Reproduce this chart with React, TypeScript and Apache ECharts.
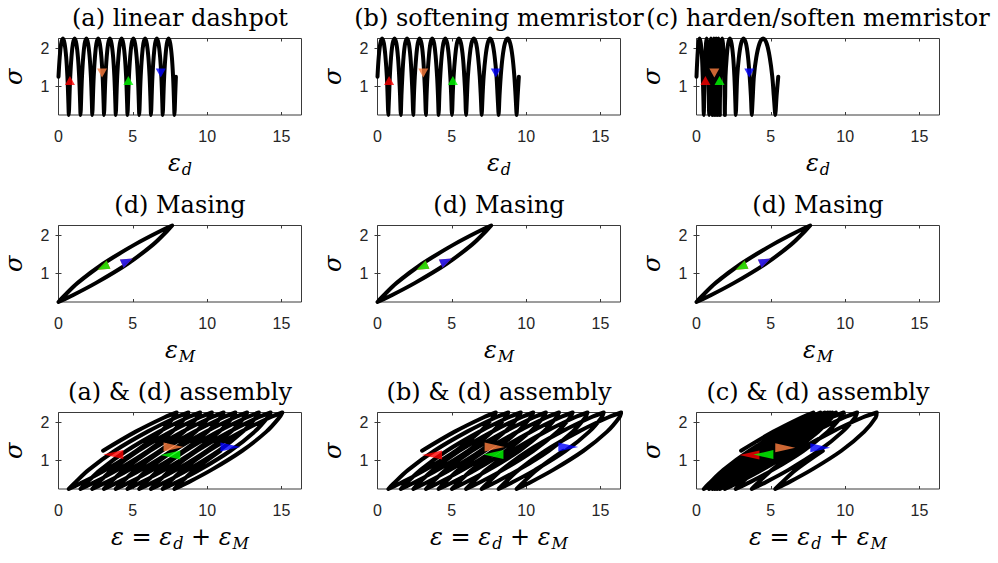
import React, { useEffect, useRef } from 'react';
import * as echarts from 'echarts';

// time series of stress sigma (10 loading cycles, 12 samples per cycle)
const sigma = [
  1.25, 1.75, 2.12, 2.25, 2.12, 1.75, 1.25, 0.75, 0.38, 0.25, 0.38, 0.75,
  1.25, 1.75, 2.12, 2.25, 2.12, 1.75, 1.25, 0.75, 0.38, 0.25, 0.38, 0.75,
  1.25, 1.75, 2.12, 2.25, 2.12, 1.75, 1.25, 0.75, 0.38, 0.25, 0.38, 0.75,
  1.25, 1.75, 2.12, 2.25, 2.12, 1.75, 1.25, 0.75, 0.38, 0.25, 0.38, 0.75,
  1.25, 1.75, 2.12, 2.25, 2.12, 1.75, 1.25, 0.75, 0.38, 0.25, 0.38, 0.75,
  1.25, 1.75, 2.12, 2.25, 2.12, 1.75, 1.25, 0.75, 0.38, 0.25, 0.38, 0.75,
  1.25, 1.75, 2.12, 2.25, 2.12, 1.75, 1.25, 0.75, 0.38, 0.25, 0.38, 0.75,
  1.25, 1.75, 2.12, 2.25, 2.12, 1.75, 1.25, 0.75, 0.38, 0.25, 0.38, 0.75,
  1.25, 1.75, 2.12, 2.25, 2.12, 1.75, 1.25, 0.75, 0.38, 0.25, 0.38, 0.75,
  1.25, 1.75, 2.12, 2.25, 2.12, 1.75, 1.25, 0.75, 0.38, 0.25, 0.38, 0.75,
  1.25,
];

// Masing strain eps_M at the same instants
const epsM = [
  3.00, 5.12, 6.93, 7.65, 7.34, 6.36, 4.65, 2.53, 0.72, 0, 0.31, 1.29,
  3.00, 5.12, 6.93, 7.65, 7.34, 6.36, 4.65, 2.53, 0.72, 0, 0.31, 1.29,
  3.00, 5.12, 6.93, 7.65, 7.34, 6.36, 4.65, 2.53, 0.72, 0, 0.31, 1.29,
  3.00, 5.12, 6.93, 7.65, 7.34, 6.36, 4.65, 2.53, 0.72, 0, 0.31, 1.29,
  3.00, 5.12, 6.93, 7.65, 7.34, 6.36, 4.65, 2.53, 0.72, 0, 0.31, 1.29,
  3.00, 5.12, 6.93, 7.65, 7.34, 6.36, 4.65, 2.53, 0.72, 0, 0.31, 1.29,
  3.00, 5.12, 6.93, 7.65, 7.34, 6.36, 4.65, 2.53, 0.72, 0, 0.31, 1.29,
  3.00, 5.12, 6.93, 7.65, 7.34, 6.36, 4.65, 2.53, 0.72, 0, 0.31, 1.29,
  3.00, 5.12, 6.93, 7.65, 7.34, 6.36, 4.65, 2.53, 0.72, 0, 0.31, 1.29,
  3.00, 5.12, 6.93, 7.65, 7.34, 6.36, 4.65, 2.53, 0.72, 0, 0.31, 1.29,
  3.00,
];

// (a) linear dashpot strain eps_d
const epsD_a = [
  0, 0.08, 0.18, 0.30, 0.41, 0.52, 0.60, 0.65, 0.68, 0.69, 0.71, 0.74,
  0.79, 0.87, 0.97, 1.09, 1.20, 1.31, 1.39, 1.44, 1.47, 1.48, 1.50, 1.53,
  1.58, 1.66, 1.76, 1.88, 1.99, 2.10, 2.18, 2.23, 2.26, 2.27, 2.29, 2.32,
  2.37, 2.45, 2.55, 2.67, 2.78, 2.89, 2.97, 3.02, 3.05, 3.06, 3.08, 3.11,
  3.16, 3.24, 3.34, 3.46, 3.57, 3.68, 3.76, 3.81, 3.84, 3.85, 3.87, 3.90,
  3.95, 4.03, 4.13, 4.25, 4.36, 4.47, 4.55, 4.60, 4.63, 4.64, 4.66, 4.69,
  4.74, 4.82, 4.92, 5.04, 5.15, 5.26, 5.34, 5.39, 5.42, 5.43, 5.45, 5.48,
  5.53, 5.61, 5.71, 5.83, 5.94, 6.05, 6.13, 6.18, 6.21, 6.22, 6.24, 6.27,
  6.32, 6.40, 6.50, 6.62, 6.73, 6.84, 6.92, 6.97, 7.00, 7.01, 7.03, 7.06,
  7.11, 7.19, 7.29, 7.41, 7.52, 7.63, 7.71, 7.76, 7.79, 7.80, 7.82, 7.85,
  7.90,
];

// (b) softening memristor strain eps_d
const epsD_b = [
  0, 0.08, 0.19, 0.31, 0.43, 0.54, 0.63, 0.68, 0.71, 0.73, 0.74, 0.78,
  0.83, 0.91, 1.02, 1.15, 1.27, 1.38, 1.46, 1.52, 1.55, 1.57, 1.58, 1.61,
  1.67, 1.75, 1.86, 1.99, 2.11, 2.22, 2.30, 2.36, 2.39, 2.41, 2.42, 2.45,
  2.51, 2.60, 2.71, 2.83, 2.96, 3.07, 3.15, 3.21, 3.24, 3.26, 3.27, 3.30,
  3.36, 3.45, 3.56, 3.68, 3.81, 3.92, 4.01, 4.07, 4.10, 4.11, 4.13, 4.16,
  4.22, 4.31, 4.43, 4.56, 4.69, 4.81, 4.90, 4.96, 4.99, 5.01, 5.03, 5.06,
  5.12, 5.22, 5.34, 5.48, 5.62, 5.75, 5.84, 5.91, 5.94, 5.96, 5.98, 6.02,
  6.08, 6.19, 6.32, 6.48, 6.64, 6.77, 6.88, 6.95, 6.99, 7.01, 7.03, 7.07,
  7.14, 7.26, 7.41, 7.57, 7.74, 7.89, 8.01, 8.08, 8.13, 8.15, 8.17, 8.21,
  8.29, 8.41, 8.57, 8.75, 8.93, 9.09, 9.21, 9.29, 9.34, 9.36, 9.38, 9.43,
  9.51,
];

// (c) harden/soften memristor strain eps_d
const epsD_c = [
  0, 0.06, 0.13, 0.21, 0.29, 0.37, 0.42, 0.46, 0.48, 0.49, 0.50, 0.52,
  0.56, 0.59, 0.64, 0.68, 0.73, 0.78, 0.81, 0.83, 0.84, 0.85, 0.86, 0.87,
  0.89, 0.91, 0.94, 0.97, 1.01, 1.03, 1.06, 1.07, 1.08, 1.08, 1.09, 1.10,
  1.11, 1.13, 1.15, 1.17, 1.19, 1.21, 1.22, 1.23, 1.24, 1.24, 1.25, 1.25,
  1.26, 1.28, 1.30, 1.32, 1.34, 1.36, 1.37, 1.38, 1.39, 1.39, 1.40, 1.40,
  1.41, 1.43, 1.45, 1.48, 1.50, 1.53, 1.55, 1.56, 1.56, 1.57, 1.57, 1.58,
  1.59, 1.63, 1.67, 1.73, 1.78, 1.83, 1.86, 1.89, 1.90, 1.91, 1.91, 1.93,
  1.95, 2.03, 2.13, 2.25, 2.36, 2.47, 2.55, 2.60, 2.63, 2.64, 2.66, 2.69,
  2.74, 2.85, 3.00, 3.16, 3.33, 3.47, 3.58, 3.66, 3.70, 3.72, 3.74, 3.79,
  3.86, 4.02, 4.24, 4.48, 4.72, 4.93, 5.10, 5.20, 5.27, 5.30, 5.33, 5.39,
  5.50,
];

const xTicks = [0, 5, 10, 15];
const yTicks = [1, 2];
const X_MAX = 16.35;
const Y_MIN = 0.25;
const Y_MAX = 2.25;

const titles = [
  '(a) linear dashpot', '(b) softening memristor', '(c) harden/soften memristor',
  '(d) Masing', '(d) Masing', '(d) Masing',
  '(a) & (d) assembly', '(b) & (d) assembly', '(c) & (d) assembly',
];

const markerColors = ['#FF0000', '#FF8040', '#00FF00', '#0000FF']; // red, orange, green, blue
const row1Markers = [
  [[0.77, 1.15], [2.93, 1.35], [4.70, 1.15], [6.88, 1.35]],
  [[0.78, 1.15], [3.08, 1.35], [5.07, 1.15], [7.96, 1.35]],
  [[0.60, 1.15], [1.20, 1.35], [1.55, 1.15], [3.55, 1.35]],
];
const row2Markers = [[3.0, 1.16], [4.62, 1.32], [3.0, 1.16], [4.62, 1.32]];
const row3Markers = [
  [[3.69, 1.15], [7.74, 1.35], [7.52, 1.14], [11.57, 1.35]],
  [[3.67, 1.14], [7.88, 1.35], [7.80, 1.15], [12.84, 1.35]],
  [[3.56, 1.14], [5.97, 1.33], [4.50, 1.15], [8.33, 1.33]],
];

const gridLeft = [58.5, 377.5, 696.5];
const gridTop = [38.5, 225.5, 412.5];
const gridW = 243;
const gridH = 76.5;
const AX = '#3a3a3a';
const TICK_TXT = '#262626';
const SERIF = '"DejaVu Serif", serif';
const SANS = '"Liberation Sans", Arial, sans-serif';

const rich = {
  e: { fontFamily: SERIF, fontStyle: 'italic', fontSize: 24, lineHeight: 26, verticalAlign: 'top', color: '#000' },
  n: { fontFamily: SERIF, fontSize: 24, lineHeight: 26, verticalAlign: 'top', color: '#000' },
  s: { fontFamily: SERIF, fontStyle: 'italic', fontSize: 16, lineHeight: 16, padding: [13, 0, 0, 1], verticalAlign: 'bottom', color: '#000' },
};

const xNames = ['{e|ε}{s|d}', '{e|ε}{s|M}', '{e|ε}{n| = }{e|ε}{s|d}{n| + }{e|ε}{s|M}'];

function buildOption() {
  const grid: any[] = [];
  const xAxis: any[] = [];
  const yAxis: any[] = [];
  const series: any[] = [];
  const graphic: any[] = [];
  const epsDs = [epsD_a, epsD_b, epsD_c];

  for (let r = 0; r < 3; r++) {
    for (let c = 0; c < 3; c++) {
      const idx = r * 3 + c;
      grid.push({ left: gridLeft[c], top: gridTop[r], width: gridW, height: gridH, show: true, borderColor: AX, borderWidth: 1, backgroundColor: 'transparent' });
      const tickStyle = { inside: true, length: 3, customValues: xTicks, lineStyle: { color: AX, width: 1 } };
      xAxis.push({
        gridIndex: idx, type: 'value', min: 0, max: X_MAX, position: 'bottom',
        axisLine: { show: false }, splitLine: { show: false },
        axisTick: tickStyle,
        axisLabel: { customValues: xTicks, margin: 13, fontSize: 16, color: TICK_TXT, fontFamily: SANS },
        name: xNames[r], nameLocation: 'middle', nameGap: 36,
        nameTextStyle: { rich },
      });
      xAxis.push({
        gridIndex: idx, type: 'value', min: 0, max: X_MAX, position: 'top',
        axisLine: { show: false }, splitLine: { show: false },
        axisTick: tickStyle, axisLabel: { show: false },
      });
      const yTickStyle = { inside: true, length: 3, customValues: yTicks, lineStyle: { color: AX, width: 1 } };
      yAxis.push({
        gridIndex: idx, type: 'value', min: Y_MIN, max: Y_MAX, position: 'left',
        axisLine: { show: false }, splitLine: { show: false },
        axisTick: yTickStyle,
        axisLabel: { customValues: yTicks, margin: 9, fontSize: 16, color: TICK_TXT, fontFamily: SANS },
        name: '{e|σ}', nameLocation: 'middle', nameGap: 31, nameRotate: 90,
        nameTextStyle: { rich },
      });
      yAxis.push({
        gridIndex: idx, type: 'value', min: Y_MIN, max: Y_MAX, position: 'right',
        axisLine: { show: false }, splitLine: { show: false },
        axisTick: yTickStyle, axisLabel: { show: false },
      });

      let xs: number[];
      if (r === 0) xs = epsDs[c];
      else if (r === 1) xs = epsM;
      else xs = epsDs[c].map((v, i) => v + epsM[i]);
      const lineData = xs.map((x, i) => [x, sigma[i]]);
      series.push({
        type: 'line', xAxisIndex: 2 * idx, yAxisIndex: 2 * idx, data: lineData,
        showSymbol: false, symbol: 'none', smooth: 0.35, clip: false,
        lineStyle: { color: '#000', width: 4, join: 'round', cap: 'round' },
        emphasis: { disabled: true }, silent: true, z: 2,
      });

      let pts: number[][];
      let rot: number[];
      let size: number[];
      if (r === 0) { pts = row1Markers[c]; rot = [0, 180, 0, 180]; size = [10, 9]; }
      else if (r === 1) { pts = row2Markers; rot = [115, -65, 115, -65]; size = [9, 12]; }
      else { pts = row3Markers[c]; rot = [90, -90, 90, -90]; size = [9, 20]; }
      series.push({
        type: 'scatter', xAxisIndex: 2 * idx, yAxisIndex: 2 * idx, clip: false,
        data: pts.map((p, k) => ({ value: p, symbol: 'triangle', symbolSize: size, symbolRotate: rot[k], itemStyle: { color: markerColors[k] } })),
        silent: true, z: 5,
      });

      graphic.push({
        type: 'text', x: gridLeft[c] + gridW / 2, y: gridTop[r] - 21,
        style: { text: titles[idx], fontFamily: SERIF, fontSize: 24, fill: '#000', align: 'center', verticalAlign: 'middle' },
        z: 10,
      });
    }
  }
  return { animation: false, backgroundColor: '#fff', grid, xAxis, yAxis, series, graphic };
}

export default function App() {
  const ref = useRef<HTMLDivElement>(null);
  useEffect(() => {
    if (!ref.current) return;
    const chart = echarts.init(ref.current, undefined, { renderer: 'svg' });
    chart.setOption(buildOption() as any);
    return () => chart.dispose();
  }, []);
  return <div ref={ref} style={{ position: 'fixed', left: 0, top: 0, width: 998, height: 563, background: '#fff' }} />;
}
